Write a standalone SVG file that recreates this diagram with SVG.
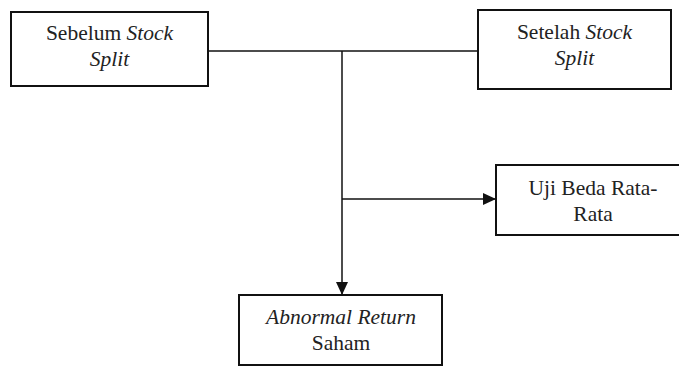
<svg xmlns="http://www.w3.org/2000/svg" width="679" height="366" viewBox="0 0 679 366">
<style>
.box{fill:#fff;stroke:#111;stroke-width:2}
.t{font-family:"Liberation Serif","Times New Roman",serif;font-size:21.5px;fill:#222;text-anchor:middle}
.i{font-style:italic}
.c{fill:none;stroke:#111;stroke-width:1.5}
</style>
<defs>
<marker id="ah" markerWidth="10" markerHeight="10" refX="9" refY="5" orient="auto" markerUnits="userSpaceOnUse">
<path d="M0,0 L10,5 L0,10 Z" fill="#111"/>
</marker>
<marker id="ah2" markerWidth="14" markerHeight="14" refX="13" refY="7" orient="auto" markerUnits="userSpaceOnUse">
<path d="M0,1 L13,7 L0,13 Z" fill="#111"/>
</marker>
</defs>
<g id="connectors">
<line class="c" x1="208" y1="51" x2="478" y2="51"/>
<line class="c" x1="342" y1="51" x2="342" y2="295" marker-end="url(#ah2)"/>
<line class="c" x1="342" y1="199" x2="496" y2="199" marker-end="url(#ah2)"/>
</g>
<g id="sebelum">
<rect class="box" x="11" y="12" width="197" height="74"/>
<text class="t" x="109.5" y="40">Sebelum <tspan class="i">Stock</tspan></text>
<text class="t i" x="109.5" y="66">Split</text>
</g>
<g id="setelah">
<rect class="box" x="478" y="10" width="193" height="79"/>
<text class="t" x="574.5" y="39">Setelah <tspan class="i">Stock</tspan></text>
<text class="t i" x="574.5" y="65">Split</text>
</g>
<g id="uji">
<rect class="box" x="496" y="165" width="190" height="70"/>
<text class="t" x="593" y="195">Uji Beda Rata-</text>
<text class="t" x="593" y="221">Rata</text>
</g>
<g id="abnormal">
<rect class="box" x="239" y="295" width="203" height="70"/>
<text class="t i" x="341" y="324">Abnormal Return</text>
<text class="t" x="341" y="350">Saham</text>
</g>
</svg>
